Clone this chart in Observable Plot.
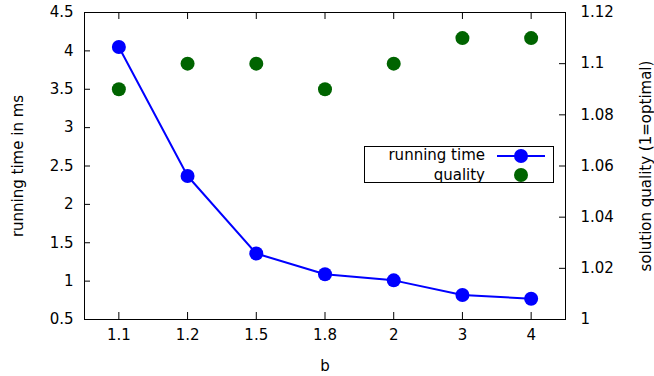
<!DOCTYPE html>
<html>
<head>
<meta charset="utf-8">
<script src="https://cdn.jsdelivr.net/npm/d3@7"></script>
<script src="https://cdn.jsdelivr.net/npm/@observablehq/plot@0.6"></script>
<style>
  html, body { margin: 0; padding: 0; background: #fff; }
  #chart { position: relative; width: 654px; height: 376px; font-family: "DejaVu Sans", sans-serif; }
  #legend { position: absolute; left: 364px; top: 146px; width: 190px; height: 37px; border: 1px solid #000; box-sizing: border-box; background: #fff; font-size: 15px; }
  #legend .row { position: absolute; right: 68px; text-align: right; white-space: nowrap; line-height: 15px; }
  #legend svg { position: absolute; left: 131px; top: 0; }
</style>
</head>
<body>
<div id="chart"></div>
<script>
const categories = ["1.1", "1.2", "1.5", "1.8", "2", "3", "4"];
const runningTime = [4.05, 2.37, 1.36, 1.09, 1.01, 0.82, 0.77];
const quality = [1.09, 1.10, 1.10, 1.09, 1.10, 1.11, 1.11];
const leftTicks = [0.5, 1, 1.5, 2, 2.5, 3, 3.5, 4, 4.5];
const rightTickLabels = ["1", "1.02", "1.04", "1.06", "1.08", "1.1", "1.12"];
const rightTickValues = [1, 1.02, 1.04, 1.06, 1.08, 1.10, 1.12];

const yMin = 0.5, yMax = 4.5, qMin = 1, qMax = 1.12;
const q2y = q => yMin + (q - qMin) / (qMax - qMin) * (yMax - yMin);

const rt = categories.map((c, i) => ({i, c, v: runningTime[i]}));
const ql = categories.map((c, i) => ({i, c, v: q2y(quality[i])}));
const rightPos = rightTickValues.map(q2y);
const idx = categories.map((c, i) => i);

const font = "DejaVu Sans, sans-serif";
const plot = Plot.plot({
  width: 654,
  height: 376,
  marginLeft: 84,
  marginRight: 89,
  marginTop: 12,
  marginBottom: 57,
  style: {fontFamily: font, fontSize: "15px", color: "#000", background: "#fff", overflow: "visible"},
  x: {type: "linear", domain: [-0.5, categories.length - 0.5]},
  y: {domain: [yMin, yMax]},
  marks: [
    Plot.frame({stroke: "#000", strokeWidth: 1}),
    // ticks pointing inward
    Plot.tickY(leftTicks, {y: d => d, x: null, stroke: "#000", strokeWidth: 1, insetRight: 481 - 6}),
    Plot.tickY(rightPos, {y: d => d, x: null, stroke: "#000", strokeWidth: 1, insetLeft: 481 - 6}),
    Plot.tickX(idx, {x: d => d, y: null, stroke: "#000", strokeWidth: 1, insetTop: 307 - 7}),
    Plot.tickX(idx, {x: d => d, y: null, stroke: "#000", strokeWidth: 1, insetBottom: 307 - 7}),
    Plot.axisY(leftTicks, {anchor: "left", tickSize: 0, tickPadding: 11, tickFormat: d => String(d), label: null, fontSize: 15}),
    Plot.axisY(rightPos, {anchor: "right", tickSize: 0, tickPadding: 15, tickFormat: (d, i) => rightTickLabels[i], label: null, fontSize: 15}),
    Plot.axisX(idx, {anchor: "bottom", tickSize: 0, tickPadding: 10, tickFormat: (d, i) => categories[i], label: null, fontSize: 15}),
    Plot.text(["b"], {frameAnchor: "bottom", dy: 51, fontSize: 15, fill: "#000", text: d => d}),
    Plot.text(["running time in ms"], {frameAnchor: "left", textAnchor: "middle", dx: -66, rotate: -90, fontSize: 15, fill: "#000", text: d => d}),
    Plot.text(["solution quality (1=optimal)"], {frameAnchor: "right", textAnchor: "middle", dx: 81, rotate: -90, fontSize: 15, fill: "#000", text: d => d}),
    Plot.line(rt, {x: "i", y: "v", stroke: "#0000ff", strokeWidth: 2}),
    Plot.dot(rt, {x: "i", y: "v", r: 7, fill: "#0000ff", stroke: "none"}),
    Plot.dot(ql, {x: "i", y: "v", r: 7, fill: "#006400", stroke: "none"})
  ]
});
const chart = document.getElementById("chart");
chart.appendChild(plot);

const legend = document.createElement("div");
legend.id = "legend";
legend.innerHTML = `
  <div class="row" style="top:1px">running time</div>
  <div class="row" style="top:21px">quality</div>
  <svg width="56" height="36">
    <line x1="1" y1="9" x2="49" y2="9" stroke="#0000ff" stroke-width="2"/>
    <circle cx="25" cy="9" r="7" fill="#0000ff"/>
    <circle cx="25" cy="28" r="7" fill="#006400"/>
  </svg>`;
chart.appendChild(legend);
</script>
</body>
</html>
